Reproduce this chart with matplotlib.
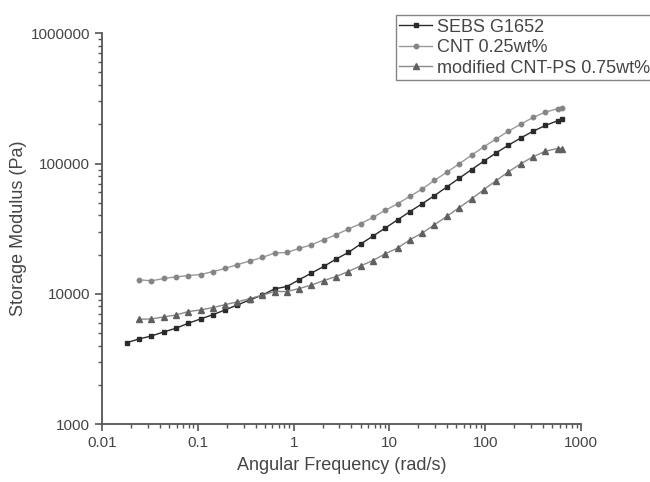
import numpy as np
import matplotlib
matplotlib.use('Agg')
import matplotlib.pyplot as plt
from matplotlib.ticker import LogLocator, FixedLocator, NullFormatter

plt.rcParams['font.family'] = ['Liberation Sans', 'DejaVu Sans']

# angular frequency (rad/s)
freq = [0.0181, 0.0243, 0.0327, 0.0440, 0.0592, 0.0794, 0.107, 0.144, 0.193,
        0.259, 0.349, 0.469, 0.631, 0.847, 1.14, 1.53, 2.06, 2.77, 3.72, 5.00,
        6.73, 9.04, 12.2, 16.3, 22.0, 29.5, 39.7, 53.3, 71.8, 96.4, 130, 174,
        234, 315, 424, 569, 628]

# storage modulus (Pa)
sebs = [4220, 4505, 4750, 5100, 5450, 5950, 6420, 6930, 7530, 8230, 8990,
        9770, 10920, 11380, 12820, 14430, 16230, 18490, 20780, 24120, 27780,
        32000, 37070, 42730, 49240, 56750, 66200, 77100, 89900, 104200,
        120900, 138200, 157000, 177000, 196000, 213000, 218000]

cnt = [12820, 12590, 13120, 13510, 13830, 14070, 14840, 15660, 16800, 17850,
       19020, 20560, 20780, 22300, 23820, 26020, 28440, 31450, 34540, 38640,
       43740, 49240, 56000, 63840, 74400, 85800, 99500, 115900, 134300,
       154800, 177000, 200400, 225900, 248200, 263700, 265000]

mod_cnt = [6390, 6420, 6650, 6890, 7310, 7530, 7850, 8270, 8680, 9200, 9770,
           10420, 10420, 10990, 11670, 12650, 13580, 14840, 16410, 18030,
           20320, 22480, 26020, 29310, 33950, 39340, 45900, 53500, 63100,
           74000, 86300, 99500, 112700, 124500, 130400, 130400]

labels = ['SEBS G1652', 'CNT 0.25wt%', 'modified CNT-PS 0.75wt%']
yticks = [1000, 10000, 100000, 1000000]
xticks = [0.01, 0.1, 1, 10, 100, 1000]

txt = '#454545'

fig = plt.figure(figsize=(6.5, 4.82), dpi=100)
ax = fig.add_axes([0.157, 0.120, 0.737, 0.811])

ax.plot(freq, sebs, '-s', color='#2b2b2b', lw=1.0, ms=3.0, label=labels[0])
ax.plot(freq[1:], cnt, '-o', color='#9a9a9a', mfc='#858585', mec='#858585',
        lw=1.0, ms=3.2, label=labels[1])
ax.plot(freq[1:], mod_cnt, '-^', color='#8a8a8a', mfc='#606060', mec='#606060',
        lw=1.0, ms=4.0, label=labels[2])

ax.set_xscale('log')
ax.set_yscale('log')
ax.set_xlim(0.01, 1000)
ax.set_ylim(1000, 1000000)

ax.xaxis.set_major_locator(FixedLocator(xticks))
ax.set_xticklabels([str(v) for v in xticks])
ax.yaxis.set_major_locator(FixedLocator(yticks))
ax.set_yticklabels([str(v) for v in yticks])
ax.xaxis.set_minor_locator(LogLocator(base=10, subs=np.arange(2, 10)))
ax.yaxis.set_minor_locator(LogLocator(base=10, subs=np.arange(2, 10)))
ax.xaxis.set_minor_formatter(NullFormatter())
ax.yaxis.set_minor_formatter(NullFormatter())

for s in ['top', 'right']:
    ax.spines[s].set_visible(False)
for s in ['left', 'bottom']:
    ax.spines[s].set_color('#555555')
    ax.spines[s].set_linewidth(1.3)

ax.tick_params(which='major', direction='out', length=5, width=1.2,
               colors='#555555', labelcolor=txt, labelsize=11)
ax.tick_params(which='minor', direction='out', length=3, width=1.0,
               colors='#555555')

ax.set_xlabel('Angular Frequency (rad/s)', fontsize=13, color=txt, labelpad=5)
ax.set_ylabel('Storage Modulus (Pa)', fontsize=13, color=txt, labelpad=3)

leg = ax.legend(loc='upper left', bbox_to_anchor=(0.609, 0.969),
                bbox_transform=fig.transFigure, fontsize=13, frameon=True,
                fancybox=False, borderpad=0.2, labelspacing=0.2,
                handlelength=1.8, handletextpad=0.3, borderaxespad=0)
leg.get_frame().set_edgecolor('#666666')
leg.get_frame().set_linewidth(1.0)
for t in leg.get_texts():
    t.set_color(txt)

fig.savefig('out.png', dpi=100)
